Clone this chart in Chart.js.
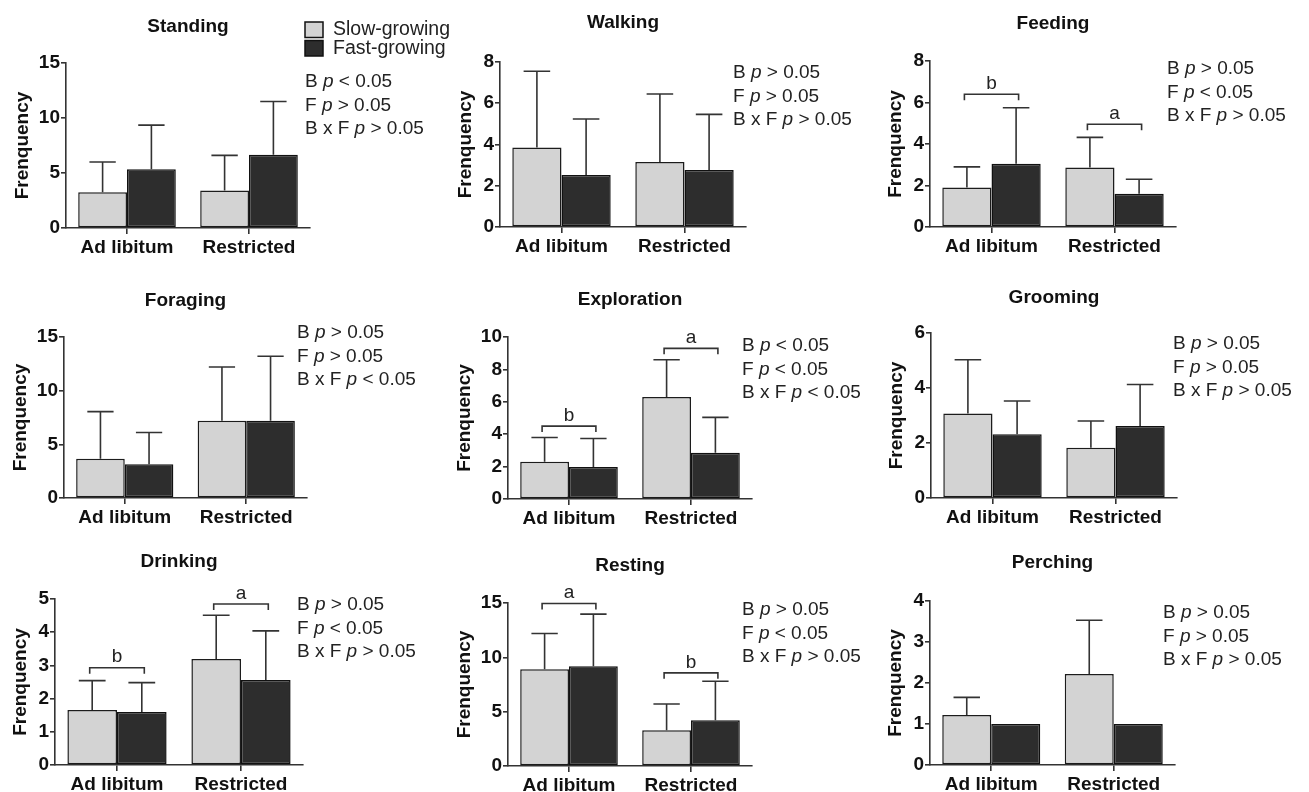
<!DOCTYPE html>
<html>
<head>
<meta charset="utf-8">
<title>Behaviour frequency</title>
<script src="https://cdn.jsdelivr.net/npm/chart.js@4.4.0/dist/chart.umd.min.js"></script>
<style>
    html, body { margin: 0; padding: 0; background: #fff; overflow: hidden; }
    #wrap { position: relative; width: 1309px; height: 792px; }
    #wrap canvas { position: absolute; }
</style>
</head>
<body>
<div id="wrap"></div>
<script>
// values (mean and SD per group)
var groups = ['Ad libitum', 'Restricted'];
var seriesNames = ['Slow-growing', 'Fast-growing'];
var behaviours = ['Standing', 'Walking', 'Feeding', 'Foraging', 'Exploration', 'Grooming', 'Drinking', 'Resting', 'Perching'];

var slowMeans = [[3.25, 3.4], [3.85, 3.15], [1.9, 2.87], [3.65, 7.2], [2.3, 6.3], [3.07, 1.83], [1.66, 3.19], [8.9, 3.3], [1.22, 2.22]];
var slowSD    = [[2.75, 3.2], [3.7, 3.3], [1.0, 1.45], [4.4, 5.0], [1.5, 2.3], [1.96, 0.97], [0.88, 1.32], [3.3, 2.4], [0.43, 1.31]];
var fastMeans = [[5.35, 6.65], [2.52, 2.76], [3.05, 1.6], [3.15, 7.2], [1.98, 2.86], [2.32, 2.62], [1.6, 2.56], [9.18, 4.2], [1.0, 1.0]];
var fastSD    = [[4.0, 4.85], [2.72, 2.7], [2.7, 0.7], [2.95, 6.0], [1.75, 2.18], [1.21, 1.51], [0.88, 1.48], [4.8, 3.6], [0, 0]];

var yMax  = [15, 8, 8, 15, 10, 6, 5, 15, 4];
var yStep = [5, 2, 2, 5, 2, 2, 1, 5, 1];

// two-way ANOVA results: breed (B), feeding (F), interaction
var statsB   = ['<', '>', '>', '>', '<', '>', '>', '>', '>'];
var statsF   = ['>', '>', '<', '>', '<', '>', '<', '<', '>'];
var statsBxF = ['>', '>', '>', '<', '<', '>', '>', '>', '>'];

// letters over the groups and the level of their bracket
var bracketLetters = [null, null, ['b', 'a'], null, ['b', 'a'], null, ['b', 'a'], ['a', 'b'], null];
var bracketLevels  = [null, null, [6.4, 4.95], null, [4.5, 9.3], null, [2.93, 4.85], [14.95, 8.57], null];

var barColors = ['#d3d3d3', '#2d2d2d'];

// page geometry of every panel (canvases overlap a bit so text is not cut)
var cellX = [0, 436, 872];
var cellW = [480, 480, 437];
var cellY = [0, 264, 528];
var cellH = 264;
var geo = [
    {ax: 66,  ar: 310,  top: 63,  zero: 228, yw: 55, titleY: 27,  sx: 305,  sy: 82},
    {ax: 500, ar: 746,  top: 62,  zero: 227, yw: 46, titleY: 23,  sx: 733,  sy: 73},
    {ax: 930, ar: 1176, top: 61,  zero: 227, yw: 46, titleY: 24,  sx: 1167, sy: 69},
    {ax: 64,  ar: 307,  top: 337, zero: 498, yw: 55, titleY: 301, sx: 297,  sy: 333},
    {ax: 508, ar: 752,  top: 337, zero: 499, yw: 55, titleY: 300, sx: 742,  sy: 346},
    {ax: 931, ar: 1177, top: 333, zero: 498, yw: 46, titleY: 298, sx: 1173, sy: 344},
    {ax: 55,  ar: 303,  top: 599, zero: 765, yw: 46, titleY: 562, sx: 297,  sy: 605},
    {ax: 508, ar: 752,  top: 603, zero: 766, yw: 55, titleY: 566, sx: 742,  sy: 610},
    {ax: 930, ar: 1175, top: 601, zero: 765, yw: 46, titleY: 563, sx: 1163, sy: 613}
];

var FONT = '"Liberation Sans", Arial, sans-serif';

var panelDecor = {
    id: 'panelDecor',
    afterDatasetsDraw: function (chart, args, opts) {
        var k = opts.index;
        var g = geo[k];
        var cx = cellX[k % 3], cy = cellY[Math.floor(k / 3)];
        var ctx = chart.ctx;
        var area = chart.chartArea;
        var y = chart.scales.y;
        var metas = [chart.getDatasetMeta(0), chart.getDatasetMeta(1)];

        ctx.save();
        ctx.strokeStyle = '#333';
        ctx.lineWidth = 1.6;

        // error bars (upper only)
        [[slowMeans, slowSD], [fastMeans, fastSD]].forEach(function (pair, ds) {
            metas[ds].data.forEach(function (bar, j) {
                var sd = pair[1][k][j];
                if (!sd) return;
                var top = y.getPixelForValue(pair[0][k][j] + sd);
                var half = bar.width * 0.27;
                ctx.beginPath();
                ctx.moveTo(bar.x, bar.y);
                ctx.lineTo(bar.x, top);
                ctx.moveTo(bar.x - half, top);
                ctx.lineTo(bar.x + half, top);
                ctx.stroke();
            });
        });

        // brackets with letters
        if (bracketLetters[k]) {
            ctx.fillStyle = '#222';
            ctx.font = '19px ' + FONT;
            ctx.textAlign = 'center';
            ctx.textBaseline = 'middle';
            groups.forEach(function (grp, j) {
                var x1 = metas[0].data[j].x - 2.5;
                var x2 = metas[1].data[j].x + 2.5;
                var by = y.getPixelForValue(bracketLevels[k][j]);
                ctx.beginPath();
                ctx.moveTo(x1, by + 6);
                ctx.lineTo(x1, by);
                ctx.lineTo(x2, by);
                ctx.lineTo(x2, by + 6);
                ctx.stroke();
                ctx.fillText(bracketLetters[k][j], (x1 + x2) / 2, by - 10.5);
            });
        }

        // panel title
        ctx.fillStyle = '#111';
        ctx.font = 'bold 19px ' + FONT;
        ctx.textAlign = 'center';
        ctx.textBaseline = 'middle';
        ctx.fillText(behaviours[k], (area.left + area.right) / 2, g.titleY - cy);

        // statistics
        var lines = [['B', statsB[k]], ['F', statsF[k]], ['B x F', statsBxF[k]]];
        ctx.textAlign = 'left';
        ctx.fillStyle = '#222';
        lines.forEach(function (ln, i) {
            var tx = g.sx - cx;
            var ty = g.sy - cy + i * 23.3;
            ctx.font = '19px ' + FONT;
            ctx.fillText(ln[0] + ' ', tx, ty);
            tx += ctx.measureText(ln[0] + ' ').width;
            ctx.font = 'italic 19px ' + FONT;
            ctx.fillText('p', tx, ty);
            tx += ctx.measureText('p').width;
            ctx.font = '19px ' + FONT;
            ctx.fillText(' ' + ln[1] + ' 0.05', tx, ty);
        });

        // legend only on the first panel
        if (k === 0) {
            seriesNames.forEach(function (name, i) {
                var bx = 305 - cx, byy = 22 + i * 18.5;
                ctx.fillStyle = barColors[i];
                ctx.fillRect(bx, byy, 18, 15.5);
                ctx.strokeStyle = '#111';
                ctx.lineWidth = 1.5;
                ctx.strokeRect(bx, byy, 18, 15.5);
                ctx.fillStyle = '#222';
                ctx.font = '19.5px ' + FONT;
                ctx.fillText(name, 333 - cx, byy + 8);
            });
        }
        ctx.restore();
    }
};

function createPanel(k) {
    var g = geo[k];
    var cx = cellX[k % 3], cy = cellY[Math.floor(k / 3)], cw = cellW[k % 3];
    var canvas = document.createElement('canvas');
    canvas.width = cw;
    canvas.height = cellH;
    canvas.style.left = cx + 'px';
    canvas.style.top = cy + 'px';
    document.getElementById('wrap').appendChild(canvas);

    var axisGrid = {
        display: true,
        drawOnChartArea: false,
        drawTicks: true,
        tickLength: 5,
        color: '#333',
        lineWidth: 1.6
    };

    new Chart(canvas.getContext('2d'), {
        type: 'bar',
        data: {
            labels: groups,
            datasets: [
                {
                    label: seriesNames[0],
                    data: slowMeans[k],
                    backgroundColor: barColors[0],
                    borderColor: '#1c1c1c',
                    borderWidth: 1.5,
                    borderSkipped: false
                },
                {
                    label: seriesNames[1],
                    data: fastMeans[k],
                    backgroundColor: barColors[1],
                    borderColor: '#111',
                    borderWidth: 1.5,
                    borderSkipped: false
                }
            ]
        },
        options: {
            responsive: false,
            animation: false,
            events: [],
            layout: {
                padding: {
                    left: g.ax - g.yw - cx,
                    right: cx + cw - g.ar,
                    top: g.top - cy,
                    bottom: 0
                }
            },
            datasets: {
                bar: { categoryPercentage: 0.8, barPercentage: 1.0 }
            },
            scales: {
                x: {
                    grid: Object.assign({}, axisGrid, { offset: false, tickLength: 6 }),
                    border: { display: true, color: '#333', width: 1.6 },
                    ticks: {
                        color: '#111',
                        padding: 2,
                        font: { family: FONT, size: 19, weight: 'bold' }
                    },
                    afterFit: function (scale) {
                        scale.height = cy + cellH - g.zero;
                    }
                },
                y: {
                    min: 0,
                    max: yMax[k],
                    grid: axisGrid,
                    border: { display: true, color: '#333', width: 1.6 },
                    ticks: {
                        stepSize: yStep[k],
                        color: '#111',
                        padding: 1,
                        font: { family: FONT, size: 19, weight: 'bold' }
                    },
                    title: {
                        display: true,
                        text: 'Frenquency',
                        color: '#111',
                        padding: 0,
                        font: { family: FONT, size: 19, weight: 'bold' }
                    },
                    afterFit: function (scale) {
                        scale.width = g.yw;
                    }
                }
            },
            plugins: {
                legend: { display: false },
                tooltip: { enabled: false },
                panelDecor: { index: k }
            }
        },
        plugins: [panelDecor]
    });
}

document.addEventListener('DOMContentLoaded', function () {
    for (var k = 0; k < behaviours.length; k++) {
        createPanel(k);
    }
});
</script>
</body>
</html>
